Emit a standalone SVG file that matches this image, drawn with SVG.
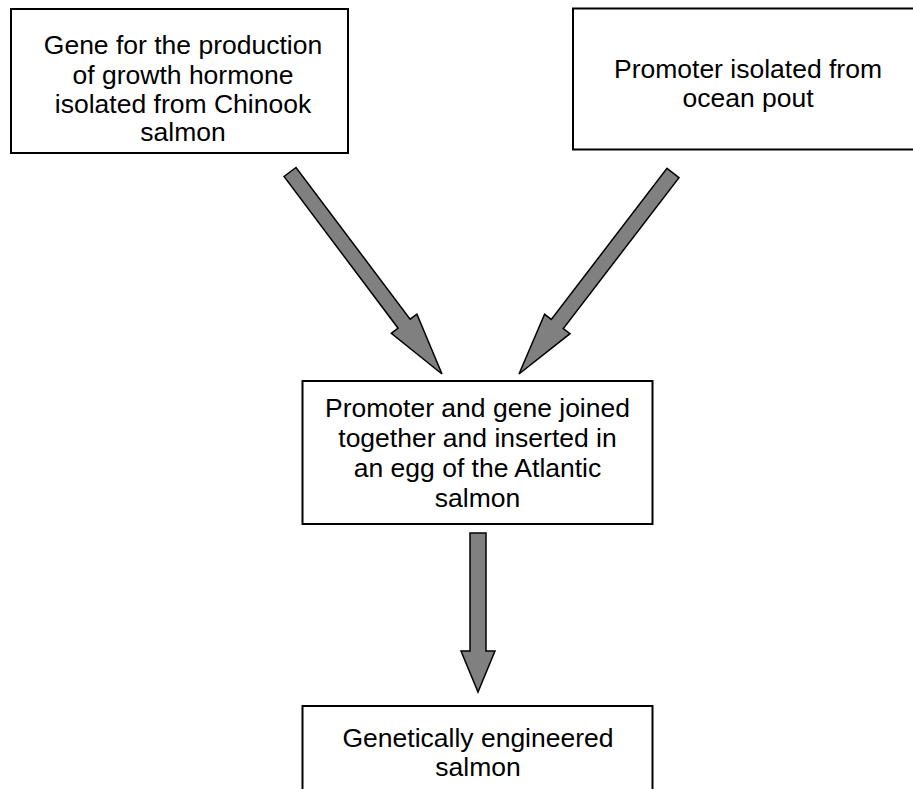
<svg xmlns="http://www.w3.org/2000/svg" width="913" height="789" viewBox="0 0 913 789">
<style>
.box{fill:#fff;stroke:#000;stroke-width:2}
.arr{fill:#808080;stroke:#000;stroke-width:1.5;stroke-linejoin:miter}
text{font-family:"Liberation Sans",Arial,sans-serif;font-size:26.5px;fill:#000;text-anchor:middle}
</style>
<rect width="913" height="789" fill="#fff"/>
<g id="gene">
<rect class="box" x="11" y="9" width="337" height="144"/>
<text x="183" y="54">Gene for the production</text>
<text x="183" y="83.5">of growth hormone</text>
<text x="183" y="112.5">isolated from Chinook</text>
<text x="183" y="141">salmon</text>
</g>
<g id="promoter">
<rect class="box" x="573" y="8.5" width="360" height="141"/>
<text x="748" y="78">Promoter isolated from</text>
<text x="748" y="107">ocean pout</text>
</g>
<g id="joined">
<rect class="box" x="302.5" y="381" width="350" height="143"/>
<text x="477.5" y="417">Promoter and gene joined</text>
<text x="477.5" y="447">together and inserted in</text>
<text x="477.5" y="477">an egg of the Atlantic</text>
<text x="477.5" y="507">salmon</text>
</g>
<g id="result">
<rect class="box" x="302.5" y="706" width="350" height="100"/>
<text x="478" y="747">Genetically engineered</text>
<text x="478" y="776">salmon</text>
</g>
<g id="connectors">
<polygon class="arr" points="284,176.5 296,167.5 410.1,319.2 416.9,314.1 442,374 391.3,333.3 398.1,328.2"/>
<polygon class="arr" points="667,168.4 679,177.6 563.3,328.6 570,333.7 519,374 544.6,314.3 551.3,319.4"/>
<polygon class="arr" points="470,533 486,533 486,651 495,651 478,692 461,651 470,651"/>
</g>
</svg>
